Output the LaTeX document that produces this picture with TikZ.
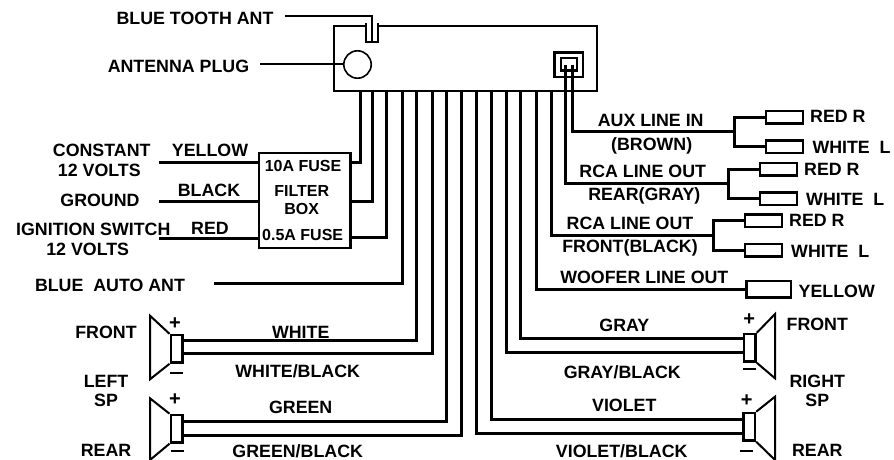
\documentclass[tikz,border=0pt]{standalone}
\usepackage{fontspec}
\setmainfont{Liberation Sans}[BoldFont={Liberation Sans Bold}]
\tikzset{
  wire/.style={draw=black,line width=3pt,line cap=butt,line join=miter},
  thinwire/.style={draw=black,line width=2pt},
  lab/.style={font=\fontsize{17.8}{19}\selectfont\bfseries,inner sep=0pt,text=black,align=center},
  llab/.style={lab,anchor=west},
  boxlab/.style={font=\fontsize{16}{18}\selectfont\bfseries,inner sep=0pt,text=black},
  sign/.style={font=\fontsize{20}{20}\selectfont\bfseries,inner sep=0pt,text=black},
  plug/.style={draw=black,line width=2.4pt,fill=white,rectangle,inner sep=0pt,minimum width=37pt,minimum height=12.6pt},
  magnet/.style={draw=black,line width=2.4pt,fill=white,rectangle,inner sep=0pt,minimum width=11.6pt,minimum height=27.6pt},
  cone/.style={draw=black,line width=2pt,line join=miter},
}
\begin{document}
\begin{tikzpicture}[x=1pt,y=-1pt]
\useasboundingbox (0,0) rectangle (894,460);

% head unit
\node[draw=black,line width=2.4pt,minimum width=263pt,minimum height=65pt,inner sep=0pt,anchor=north west] (unit) at (332.7,24.7) {};
\fill[white] (367,22) rectangle (377,27);
\coordinate (nl) at (366,23.5);
\coordinate (nr) at (378,23.5);
\coordinate (nbl) at (366,42);
\coordinate (nbr) at (378,42);
\draw[line width=2.4pt] (nl) -- (nbl) -- (nbr) -- (nr);
\coordinate (btin) at (372,42);
\coordinate (btfree) at (285,16);
\draw[thinwire] (btfree) -| (btin);
\node[lab] (btlab) at (195,18) {BLUE TOOTH ANT};

\node[circle,draw=black,line width=1.6pt,minimum size=27.4pt,inner sep=0pt] (ant) at (357.5,64.5) {};
\coordinate (antfree) at (260,64.5);
\draw[thinwire] (antfree) -- (ant.west);
\node[lab] (antlab) at (178.5,66) {ANTENNA PLUG};

% socket on the unit
\node[draw=black,line width=2.4pt,minimum width=28.5pt,minimum height=24.7pt,inner sep=0pt] (sockout) at (568.7,64.7) {};
\node[draw=black,line width=2.4pt,minimum width=16pt,minimum height=12.4pt,inner sep=0pt] (sockin) at (568.7,64.5) {};

% filter box
\node[draw=black,line width=2.4pt,minimum width=91.6pt,minimum height=95pt,inner sep=0pt,anchor=north west,fill=white] (filter) at (257.7,151.7) {};
\node[boxlab] (f1) at (303,166) {10A FUSE};
\node[boxlab] (f2) at (301.7,190.7) {FILTER};
\node[boxlab] (f3) at (301.7,209) {BOX};
\node[boxlab] (f4) at (302.7,235) {0.5A FUSE};

% filter box wires
\coordinate (t1) at (360.7,89.5);
\coordinate (t2) at (372.3,89.5);
\coordinate (t3) at (386.7,89.5);
\coordinate (e1) at (349.3,162.3);
\coordinate (e2) at (349.3,201);
\coordinate (e3) at (349.3,237.3);
\draw[wire] (t1) |- (e1);
\draw[wire] (t2) |- (e2);
\draw[wire] (t3) |- (e3);
\coordinate (i1) at (159.3,162.3);
\coordinate (i2) at (159.3,201);
\coordinate (i3) at (159.3,238);
\draw[wire] (i1) -- (i1 -| filter.west);
\draw[wire] (i2) -- (i2 -| filter.west);
\draw[wire] (i3) -- (i3 -| filter.west);
\node[lab] (l1) at (101.7,150) {CONSTANT};
\node[lab] (l2) at (99.3,170.7) {12 VOLTS};
\node[lab] (l3) at (100,200.7) {GROUND};
\node[lab] (l4) at (93.3,229) {IGNITION SWITCH};
\node[lab] (l5) at (87.7,249) {12 VOLTS};
\node[lab] (c1) at (210,150) {YELLOW};
\node[lab] (c2) at (209,190) {BLACK};
\node[lab] (c3) at (210,228) {RED};

% blue auto ant
\coordinate (t4) at (402.3,89.5);
\coordinate (autofree) at (214,283.3);
\draw[wire] (t4) |- (autofree);
\node[lab] (autolab) at (110,285) {BLUE\ \ AUTO ANT};

% left speakers
\coordinate (t5) at (416.7,89.5);
\coordinate (t6) at (432.3,89.5);
\coordinate (t7) at (446.5,89.5);
\coordinate (t8) at (461.7,89.5);
\coordinate (s5) at (182.3,340.7);
\coordinate (s6) at (182.3,353.3);
\coordinate (s7) at (182.3,421);
\coordinate (s8) at (182.3,435.7);
\draw[wire] (t5) |- (s5);
\draw[wire] (t6) |- (s6);
\draw[wire] (t7) |- (s7);
\draw[wire] (t8) |- (s8);
\node[magnet] (lf) at (176.5,348.8) {};
\node[magnet] (lr) at (176.5,428.7) {};
\draw[cone] (lf.north west) -- (150,315.7) -- (150,379.3) -- (lf.south west);
\draw[cone] (lr.north west) -- (150,398.3) -- (150,460) -- (lr.south west);
\node[sign] (lfp) at (175,323.5) {+};
\node[sign] (lfm) at (176.7,372.7) {\rule{13pt}{2.2pt}};
\node[sign] (lrp) at (175,400) {+};
\node[sign] (lrm) at (177,451) {\rule{13pt}{2.2pt}};
\node[lab] (ll1) at (106,332.3) {FRONT};
\node[lab] (ll2) at (106,381) {LEFT};
\node[lab] (ll3) at (106,400.7) {SP};
\node[lab] (ll4) at (106,450) {REAR};
\node[lab] (w1) at (300.7,332) {WHITE};
\node[lab] (w2) at (297.7,371.7) {WHITE/BLACK};
\node[lab] (w3) at (300.7,407.3) {GREEN};
\node[lab] (w4) at (297.7,451.6) {GREEN/BLACK};

% right speakers
\coordinate (t9) at (476.7,89.5);
\coordinate (t10) at (491.7,89.5);
\coordinate (t11) at (506.7,89.5);
\coordinate (t12) at (520.5,89.5);
\coordinate (s9) at (743.3,433.3);
\coordinate (s10) at (743.3,419.3);
\coordinate (s11) at (744,352);
\coordinate (s12) at (744,338.3);
\draw[wire] (t9) |- (s9);
\draw[wire] (t10) |- (s10);
\draw[wire] (t11) |- (s11);
\draw[wire] (t12) |- (s12);
\node[magnet] (rf) at (749.8,347.8) {};
\node[magnet] (rr) at (749.2,426.7) {};
\draw[cone] (rf.north east) -- (775,314) -- (775,378.3) -- (rf.south east);
\draw[cone] (rr.north east) -- (775,396.7) -- (775,460) -- (rr.south east);
\node[sign] (rfp) at (749.3,320) {+};
\node[sign] (rfm) at (749.3,369.3) {\rule{13pt}{2.2pt}};
\node[sign] (rrp) at (746.7,401) {+};
\node[sign] (rrm) at (746.7,450.7) {\rule{13pt}{2.2pt}};
\node[lab] (rl1) at (817.3,324) {FRONT};
\node[lab] (rl2) at (817.3,381) {RIGHT};
\node[lab] (rl3) at (817.3,400.7) {SP};
\node[lab] (rl4) at (817.3,450) {REAR};
\node[lab] (g1) at (624.3,325) {GRAY};
\node[lab] (g2) at (622.3,372) {GRAY/BLACK};
\node[lab] (v1) at (624.3,405) {VIOLET};
\node[lab] (v2) at (621.7,451.6) {VIOLET/BLACK};

% line-level plugs
\coordinate (ja) at (734,131.3);
\coordinate (jb) at (728.3,183.7);
\coordinate (jc) at (713.3,235.3);
\coordinate (sa) at (572.3,65);
\coordinate (sb) at (565.7,65);
\coordinate (sc) at (551.7,89.5);
\coordinate (sd) at (536.4,89.5);
\node[plug] (a1) at (784.6,117) {};
\node[plug] (a2) at (784.6,146.7) {};
\node[plug] (b1) at (778.3,169.3) {};
\node[plug] (b2) at (778.3,198.7) {};
\node[plug] (c1p) at (763.3,220.8) {};
\node[plug] (c2p) at (763.3,250) {};
\node[plug,minimum width=44.3pt,minimum height=16.3pt] (wf) at (768.8,289.2) {};
\draw[wire] (sa) |- (ja);
\draw[wire] (sb) |- (jb);
\draw[wire] (sc) |- (jc);
\draw[wire] (sd) |- (wf.west);
\draw[wire] (a1.west) -| (ja) |- (a2.west);
\draw[wire] (b1.west) -| (jb) |- (b2.west);
\draw[wire] (c1p.west) -| (jc) |- (c2p.west);

\node[lab] (p1) at (650.7,120) {AUX LINE IN};
\node[lab] (p2) at (651.7,146) {(BROWN)};
\node[lab] (p3) at (642.7,171.7) {RCA LINE OUT};
\node[lab] (p4) at (644.3,196) {REAR(GRAY)};
\node[lab] (p5) at (630,223.3) {RCA LINE OUT};
\node[lab] (p6) at (630,247.7) {FRONT(BLACK)};
\node[lab] (p7) at (644.3,277.7) {WOOFER LINE OUT};
\node[llab] (q1) at (810,116.7) {RED R};
\node[llab] (q2) at (812.3,147.7) {WHITE\ \ L};
\node[llab] (q3) at (804,169) {RED R};
\node[llab] (q4) at (806,199.3) {WHITE\ \ L};
\node[llab] (q5) at (789,220.7) {RED R};
\node[llab] (q6) at (791,251.7) {WHITE\ \ L};
\node[llab] (q7) at (798.5,291.7) {YELLOW};
\end{tikzpicture}
\end{document}
